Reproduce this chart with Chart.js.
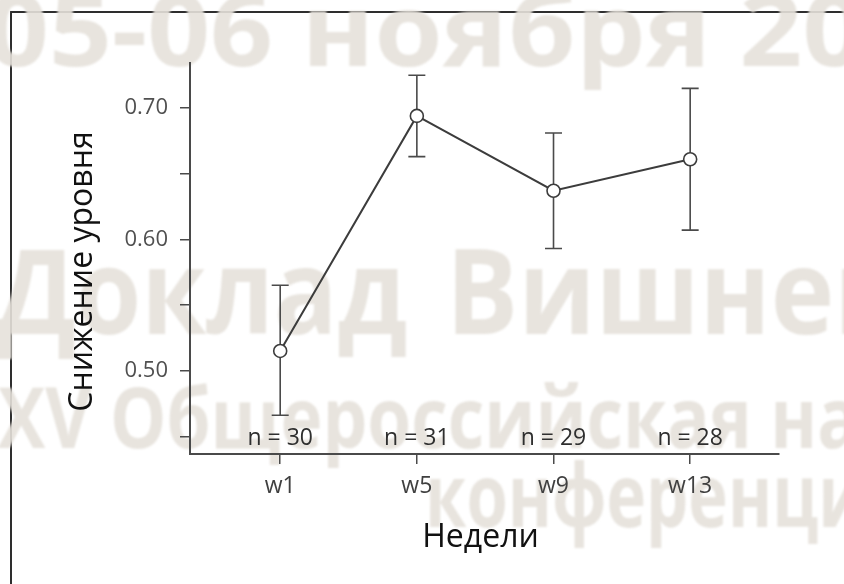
<!DOCTYPE html>
<html><head><meta charset="utf-8">
<script src="https://cdn.jsdelivr.net/npm/chart.js@4/dist/chart.umd.min.js"></script>
<style>html,body{margin:0;padding:0;background:#fff;overflow:hidden}#wrap{width:844px;height:584px;position:relative}</style>
</head><body><div id="wrap"><canvas id="c" width="844" height="584"></canvas></div>
<script>
const weeks = ['w1', 'w5', 'w9', 'w13'];
const meanValues = [0.515, 0.694, 0.637, 0.661];
const upperValues = [0.565, 0.725, 0.681, 0.715];
const lowerValues = [0.466, 0.663, 0.593, 0.607];
const sampleSizes = [30, 31, 29, 28];
const yMajorTicks = [0.50, 0.60, 0.70];
const yMinorTicks = [0.45, 0.55, 0.65];
const xTitle = 'Недели';
const yTitle = 'Снижение уровня';
const watermarkLines = ['05-06 ноября 2025', 'Доклад', 'Вишневского', 'XV Общероссийская научно-практическая', 'конференция'];

const FONT = '"Open Sans", "Segoe UI", sans-serif';
const INK = '#3c3c3c';

function stretchedText(ctx, text, size, x, y, sx) {
  ctx.save();
  ctx.font = '700 ' + size + 'px ' + FONT;
  ctx.translate(x, y);
  ctx.scale(sx, 1);
  ctx.fillText(text, 0, 0);
  ctx.restore();
}

const backdrop = {
  id: 'backdrop',
  beforeDraw(chart) {
    const ctx = chart.ctx;
    ctx.save();
    ctx.fillStyle = '#ffffff';
    ctx.fillRect(0, 0, chart.width, chart.height);
    // frame
    ctx.strokeStyle = '#2e2e2e';
    ctx.lineWidth = 2;
    ctx.beginPath();
    ctx.moveTo(11, chart.height + 2);
    ctx.lineTo(11, 12);
    ctx.lineTo(chart.width + 2, 12);
    ctx.stroke();
    // watermark
    ctx.filter = 'blur(1.2px)';
    ctx.fillStyle = 'rgba(229,225,218,0.9)';
    ctx.textBaseline = 'alphabetic';
    ctx.textAlign = 'left';
    stretchedText(ctx, watermarkLines[0], 100, -14, 66, 1.1);
    stretchedText(ctx, watermarkLines[1], 118, -4, 334, 0.89);
    stretchedText(ctx, watermarkLines[2], 118, 446, 334, 0.91);
    stretchedText(ctx, watermarkLines[3], 84, -2, 448, 0.845);
    stretchedText(ctx, watermarkLines[4], 88, 425, 527, 0.76);
    ctx.restore();
  }
};

const errorBars = {
  id: 'errorBars',
  beforeDatasetsDraw(chart) {
    const ctx = chart.ctx, xs = chart.scales.x, ys = chart.scales.y;
    ctx.save();
    ctx.strokeStyle = '#4a4a4a';
    ctx.lineWidth = 1.6;
    weeks.forEach((w, i) => {
      const x = xs.getPixelForValue(i);
      const yh = ys.getPixelForValue(upperValues[i]);
      const yl = ys.getPixelForValue(lowerValues[i]);
      ctx.beginPath();
      ctx.moveTo(x, yh); ctx.lineTo(x, yl);
      ctx.moveTo(x - 8.5, yh); ctx.lineTo(x + 8.5, yh);
      ctx.moveTo(x - 8.5, yl); ctx.lineTo(x + 8.5, yl);
      ctx.stroke();
    });
    ctx.restore();
  },
  afterDraw(chart) {
    const ctx = chart.ctx, xs = chart.scales.x, a = chart.chartArea;
    ctx.save();
    ctx.fillStyle = '#2f2f2f';
    ctx.font = '23px ' + FONT;
    ctx.textAlign = 'center';
    ctx.textBaseline = 'alphabetic';
    sampleSizes.forEach((n, i) => {
      ctx.fillText('n = ' + n, xs.getPixelForValue(i), a.bottom - 9);
    });
    ctx.fillStyle = '#111';
    ctx.font = '32px ' + FONT;
    ctx.fillText(xTitle, (a.left + a.right) / 2 - 4, a.bottom + 93);
    ctx.translate(a.left - 98, (a.top + a.bottom) / 2 + 13);
    ctx.rotate(-Math.PI / 2);
    ctx.fillText(yTitle, 0, 0);
    ctx.restore();
  }
};

const isMajor = v => yMajorTicks.some(t => Math.abs(t - v) < 1e-6);

new Chart(document.getElementById('c'), {
  type: 'line',
  data: {
    datasets: [{
      data: meanValues.map((v, i) => ({ x: i, y: v })),
      borderColor: INK,
      borderWidth: 2,
      pointRadius: 6.5,
      pointBorderWidth: 1.6,
      pointBackgroundColor: '#ffffff',
      pointBorderColor: INK,
      tension: 0
    }]
  },
  options: {
    responsive: false,
    animation: false,
    events: [],
    layout: { padding: { left: 0, top: 63, right: 65, bottom: 0 } },
    plugins: { legend: { display: false }, tooltip: { enabled: false }, title: { display: false } },
    scales: {
      x: {
        type: 'linear',
        min: -0.66, max: 3.65,
        afterBuildTicks: s => { s.ticks = weeks.map((w, i) => ({ value: i })); },
        afterFit: s => { s.height = 130; },
        ticks: {
          callback: v => weeks[v],
          autoSkip: false, maxRotation: 0,
          font: { family: FONT, size: 23 },
          color: '#404040',
          padding: 9
        },
        grid: { drawOnChartArea: false, drawTicks: true, tickLength: 10, color: '#4a4a4a', lineWidth: 1.5 },
        border: { color: '#4a4a4a', width: 2 }
      },
      y: {
        type: 'linear',
        min: 0.4365, max: 0.7343,
        afterBuildTicks: s => {
          s.ticks = yMajorTicks.concat(yMinorTicks).sort((a, b) => a - b).map(v => ({ value: v }));
        },
        afterFit: s => { s.width = 190; },
        ticks: {
          callback: v => isMajor(v) ? v.toFixed(2) : '',
          autoSkip: false,
          font: { family: FONT, size: 22 },
          color: '#505050',
          padding: 12
        },
        grid: { drawOnChartArea: false, drawTicks: true, tickLength: 10, color: '#4a4a4a', lineWidth: 1.5 },
        border: { color: '#4a4a4a', width: 2 }
      }
    }
  },
  plugins: [backdrop, errorBars]
});
</script>
</body></html>
